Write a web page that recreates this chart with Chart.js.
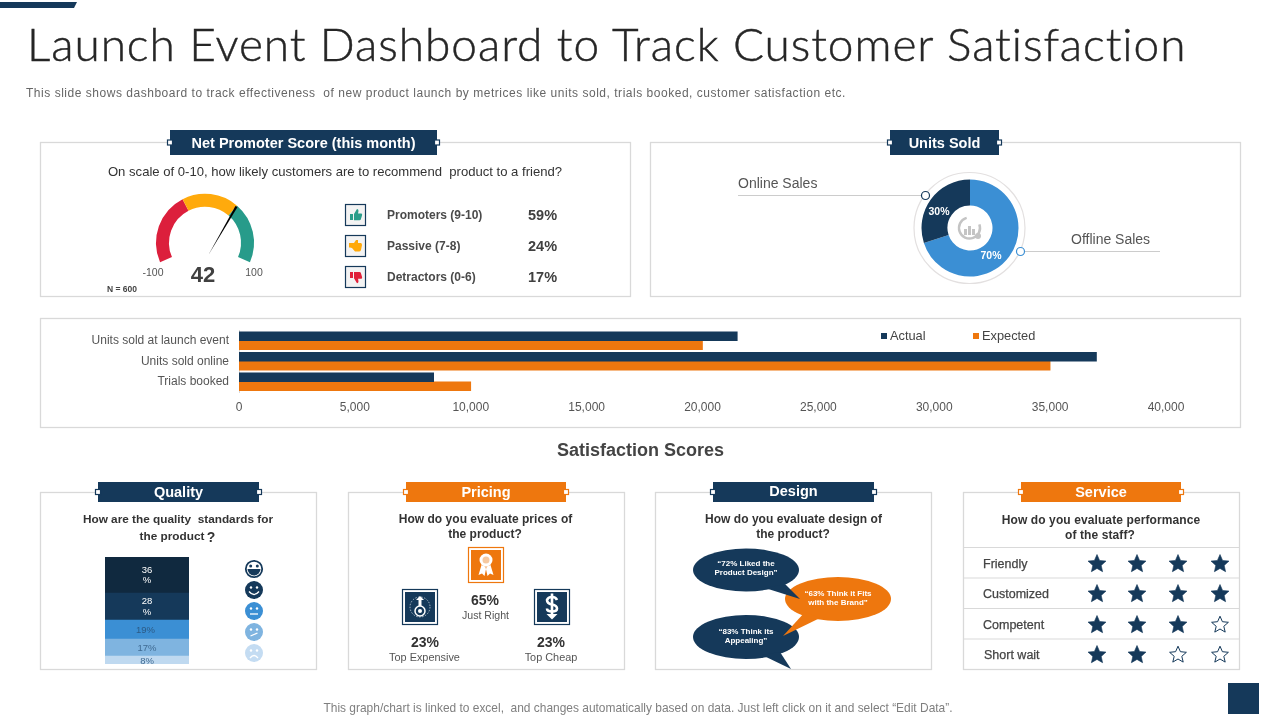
<!DOCTYPE html>
<html><head><meta charset="utf-8">
<script src="https://cdn.jsdelivr.net/npm/chart.js@4"></script>
<style>
html,body{margin:0;padding:0;background:#fff;width:1280px;height:720px;overflow:hidden;font-family:"Liberation Sans",Arial,sans-serif}
#stage{position:relative;width:1280px;height:720px;overflow:hidden}
#deco{position:absolute;left:0;top:0}
canvas{position:absolute}
.t{position:absolute;white-space:nowrap;line-height:1}
</style></head><body><div id="stage"><svg id="deco" width="1280" height="720" viewBox="0 0 1280 720"></svg></div>
<script>
// ---------- data ----------
const barCategories = ['Units sold at launch event','Units sold online','Trials booked'];
const actualValues = [21500,37000,8400];
const expectedValues = [20000,35000,10000];
const barMax = 40000;
const barStep = 5000;
const unitLabels = ['Offline Sales','Online Sales'];
const unitValues = [70,30];
const gaugeSegments = [38,30,32];
const npsScore = 42;
const npsLabels = ['Promoters (9-10)','Passive (7-8)','Detractors (0-6)'];
const npsValues = [59,24,17];
const qualityLevels = ['36%','28%','19%','17%','8%'];
const qualityValues = [8,17,19,27,36];
const pricingValues = [65,23,23];
const pricingLabels = ['Just Right','Top Expensive','Top Cheap'];
const serviceLabels = ['Friendly','Customized','Competent','Short wait'];
const serviceStars = [4,4,3,2];

// ---------- colours ----------
const NAVY='#15395a', ORANGE='#ee770e', BLUE='#3b8fd4', LINE='#d9d9d9';
const stage=document.getElementById('stage'), deco=document.getElementById('deco');
const svg=(s)=>deco.insertAdjacentHTML('beforeend',s);
function t(text,x,y,o={}){
  const e=document.createElement('div');e.className='t';e.textContent=text;
  const a=o.a||'l';const tx=a==='c'?'-50%':a==='r'?'-100%':'0';
  e.style.cssText=`left:${x}px;top:${y}px;transform:translate(${tx},-50%);font-size:${o.s||12}px;font-weight:${o.b?700:400};color:${o.c||'#444'};letter-spacing:${o.ls||0}px;word-spacing:${o.ws||0}px;z-index:5;${o.x||''}`;
  stage.appendChild(e);return e;
}
function canvas(x,y,w,h){const c=document.createElement('canvas');c.style.left=x+'px';c.style.top=y+'px';c.style.width=w+'px';c.style.height=h+'px';c.width=w;c.height=h;const d=document.createElement('div');d.style.cssText=`position:absolute;left:${x}px;top:${y}px;width:${w}px;height:${h}px;z-index:3`;c.style.left='0';c.style.top='0';d.appendChild(c);stage.appendChild(d);return c;}
function panel(x,y,w,h){svg(`<rect x="${x}" y="${y}" width="${w}" height="${h}" fill="#fff" stroke="${LINE}" stroke-width="1.3"/>`);}
function header(x1,x2,y1,y2,col,text,ty,s){
  svg(`<rect x="${x1}" y="${y1}" width="${x2-x1}" height="${y2-y1}" fill="${col}"/>`);
  const my=(y1+y2)/2;
  [x1,x2].forEach(px=>svg(`<rect x="${px-2.5}" y="${my-2.5}" width="5" height="5" fill="#fff" stroke="${col}" stroke-width="1.2"/>`));
  t(text,(x1+x2)/2,ty,{a:'c',b:1,s:s||14.5,c:'#fff'});
}
// top-left strip and bottom-right square
svg(`<polygon points="0,2 77,2 74,8 0,8" fill="${NAVY}"/>`);
svg(`<rect x="1228" y="683" width="31" height="31" fill="${NAVY}"/>`);

// ---------- titles ----------
const titleEl=t('Launch Event Dashboard to Track Customer Satisfaction',27,43.5,{s:46,c:'#262626',x:'font-family:Lato,"Liberation Sans",sans-serif;font-weight:300;-webkit-text-stroke:.45px #262626;'});
titleEl.style.letterSpacing=((1161-titleEl.getBoundingClientRect().width)/titleEl.textContent.length)+'px';
t('This slide shows dashboard to track effectiveness  of new product launch by metrices like units sold, trials booked, customer satisfaction etc.',26,92.5,{s:12,c:'#666',ls:0.525,x:'white-space:pre;'});
t('Satisfaction Scores',640.5,449.5,{a:'c',s:18,b:1,c:'#444'});
t('This graph/chart is linked to excel,  and changes automatically based on data. Just left click on it and select \u201cEdit Data\u201d.',638,708.5,{a:'c',s:11.95,c:'#7f7f7f',x:'white-space:pre;'});

// ---------- panels ----------
panel(40.5,142.5,590,154);panel(650.5,142.5,590,154);panel(40.5,318.5,1200,109);
panel(40.5,492.5,276,177);panel(348.5,492.5,276,177);panel(655.5,492.5,276,177);panel(963.5,492.5,276,177);
header(170,437,130,155,NAVY,'Net Promoter Score (this month)',143);
header(890,999,130,155,NAVY,'Units Sold',143);
header(98,259,482,502,NAVY,'Quality',492);
header(406,566,482,502,ORANGE,'Pricing',492);
header(713,874,482,502,NAVY,'Design',490.5);
header(1021,1181,482,502,ORANGE,'Service',492);

// ---------- NPS panel ----------
t('On scale of 0-10, how likely customers are to recommend  product to a friend?',335,171.5,{a:'c',s:13.1,c:'#333',x:'white-space:pre;'});
const gaugeCx=204.5, gaugeCy=243, needleDeg=41, gaugeRadius=49;
const needlePlugin={id:'needle',afterDatasetsDraw(ch){
  const a=ch.getDatasetMeta(0).data[0], g=ch.ctx, r=a.outerRadius-1, th=needleDeg*Math.PI/180;
  const tx=a.x+r*Math.sin(th), ty=a.y-r*Math.cos(th), bx=a.x+3.5, by=a.y+12;
  const px=Math.cos(Math.atan2(ty-by,tx-bx)+Math.PI/2)*1.2, py=Math.sin(Math.atan2(ty-by,tx-bx)+Math.PI/2)*1.2;
  g.save();g.fillStyle='#000';g.beginPath();g.moveTo(bx,by);g.lineTo(tx+px,ty+py);g.lineTo(tx-px,ty-py);g.closePath();g.fill();g.restore();
}};
// the library centres the arc's bounding box in the canvas, so the canvas sits higher than the arc centre
const gaugeShift=(1-Math.sin(23.5*Math.PI/180))/2*gaugeRadius;
new Chart(canvas(gaugeCx-60,gaugeCy-gaugeShift-60,120,120),{type:'doughnut',plugins:[needlePlugin],
  data:{labels:['Detractors','Passive','Promoters'],datasets:[{data:gaugeSegments,backgroundColor:['#dc1f3c','#ffaa0c','#279b8a'],borderWidth:0}]},
  options:{responsive:false,animation:false,rotation:-113.5,circumference:227,radius:gaugeRadius,cutout:'73.5%',layout:{padding:0},plugins:{legend:{display:false},tooltip:{enabled:false}}}});
t('-100',153,271.5,{a:'c',s:10.5,c:'#555'});
t('100',254,271.5,{a:'c',s:10.5,c:'#555'});
t(String(npsScore),203,275,{a:'c',s:22,b:1,c:'#404040'});
t('N = 600',107,288.5,{s:8.5,b:1,c:'#444'});
const npsRowY=[215,246,277], npsIconCol=['#2a9d8a','#ffa90a','#e0213a'];
npsLabels.forEach((l,i)=>{
  const y=npsRowY[i];
  svg(`<rect x="345.5" y="${y-10.5}" width="20" height="21" fill="#f3f3f3" stroke="${NAVY}" stroke-width="1.2"/>`);
  const c=npsIconCol[i];
  if(i===0) svg(`<path d="M350 ${y-1}h3v6h-3z M354 ${y-1}l3 -5q1.5 0 1.5 2l-.5 2.5h3.5q1 .5 .5 2l-1.2 4q-.3 .8 -1.3 .8h-5.5z" fill="${c}"/>`);
  if(i===1) svg(`<path d="M349 ${y-3}h5l2 -3h2v3h3q1 .5 1 2l-1 5q-.5 1.5 -2 1.5h-4l-3 -3.5l-2 -.5h-1z" fill="${c}"/>`);
  if(i===2) svg(`<path d="M350 ${y-5}h3v6h-3z M354 ${y-5}h5.5q1 0 1.3 .8l1.2 4q.5 1.5 -.5 2h-3.5l.5 2.5q0 2 -1.5 2l-3 -5z" fill="${c}"/>`);
  t(l,387,y,{s:12,b:1,c:'#4a4a4a'});
  t(npsValues[i]+'%',528,y,{s:14.5,b:1,c:'#404040'});
});

// ---------- Units sold donut ----------
const donutCx=969.5, donutCy=228;
svg(`<circle cx="${donutCx}" cy="${donutCy}" r="55.5" fill="#fff" stroke="#e3e0e0" stroke-width="1.2"/>`);
new Chart(canvas(donutCx-52,donutCy-52,104,104),{type:'doughnut',
  data:{labels:unitLabels,datasets:[{data:unitValues,backgroundColor:[BLUE,NAVY],borderWidth:0}]},
  options:{responsive:false,animation:false,radius:48.5,cutout:'46.4%',layout:{padding:0},plugins:{legend:{display:false},tooltip:{enabled:false}}}});
t(unitLabels[1],738,182.5,{s:14,c:'#555'});
t(unitLabels[0],1071,238.5,{s:14,c:'#555'});
svg(`<path d="M738 195.5H921" stroke="#ccc" fill="none"/><path d="M1025 251.5H1160" stroke="#ccc" fill="none"/>`);
const overlay=`<svg width="1280" height="720" style="position:absolute;left:0;top:0;z-index:4" viewBox="0 0 1280 720">
<circle cx="925.5" cy="195.5" r="4" fill="#fff" stroke="${NAVY}" stroke-width="1.2"/>
<circle cx="1020.5" cy="251.5" r="4" fill="#fff" stroke="${BLUE}" stroke-width="1.2"/>
<circle cx="${donutCx}" cy="${donutCy}" r="10.5" fill="none" stroke="#c4c4c4" stroke-width="2.5" stroke-dasharray="50 16" transform="rotate(-20 ${donutCx} ${donutCy})"/>
<path d="M964 235v-6h3v6z M968 235v-9h3v9z M972 235v-6h3v6z" fill="#c4c4c4"/>
<circle cx="978" cy="236" r="3" fill="#c4c4c4"/>
<rect x="881" y="333" width="6" height="6" fill="${NAVY}"/><rect x="973" y="333" width="6" height="6" fill="${ORANGE}"/>
</svg>`;
stage.insertAdjacentHTML('beforeend',overlay);
t(unitValues[1]+'%',939,210.5,{a:'c',s:10.5,b:1,c:'#fff'});
t(unitValues[0]+'%',991,254.5,{a:'c',s:10.5,b:1,c:'#fff'});

// ---------- grouped bars ----------
new Chart(canvas(41,319,1199,108),{type:'bar',
  data:{labels:barCategories,datasets:[
    {label:'Actual',data:actualValues,backgroundColor:NAVY,barThickness:9,categoryPercentage:.9,barPercentage:1},
    {label:'Expected',data:expectedValues,backgroundColor:ORANGE,barThickness:9,categoryPercentage:.9,barPercentage:1}]},
  options:{responsive:false,animation:false,indexAxis:'y',
    layout:{autoPadding:false,padding:{top:11.5,right:74,left:0,bottom:0}},
    scales:{
      x:{min:0,max:barMax,afterFit:s=>{s.height=35},grid:{display:false,drawTicks:false},border:{display:false},
         ticks:{stepSize:barStep,maxRotation:0,autoSkip:false,padding:8,color:'#555',font:{family:'"Liberation Sans"',size:12},callback:v=>v.toLocaleString('en-US')}},
      y:{afterFit:s=>{s.width=198;s.paddingTop=0;s.paddingBottom=0},grid:{display:false,drawTicks:false},border:{display:true,color:'#d9d9d9'},
         ticks:{padding:10,color:'#555',font:{family:'"Liberation Sans"',size:12}}}
    },
    plugins:{legend:{display:false},tooltip:{enabled:false}}}});
t('Actual',890,336,{s:12.8,c:'#444'});
t('Expected',982,336,{s:12.8,c:'#444'});

// ---------- Quality ----------
t('How are the quality  standards for',178,520,{a:'c',s:11.8,b:1,c:'#333',x:'white-space:pre;'});
t('the product',172,537,{a:'c',s:11.8,b:1,c:'#333'});
t('?',211,537,{a:'c',s:14,b:1,c:'#333'});
new Chart(canvas(105,557,84,107),{type:'bar',
  data:{labels:['Quality'],datasets:qualityValues.map((v,i)=>({label:qualityLevels[4-i],data:[v],backgroundColor:['#bfd9f0','#7fb4e0',BLUE,'#15395a','#10293f'][i],categoryPercentage:1,barPercentage:1,borderWidth:0}))},
  options:{responsive:false,animation:false,layout:{padding:0},
    scales:{x:{stacked:true,display:false},y:{stacked:true,display:false,min:0,max:107}},
    plugins:{legend:{display:false},tooltip:{enabled:false}}}});
const qualY=[[569.5,580],[601,611.5],[630],[647.5],[660.5]], qualCol=['#fff','#fff','#2c5a85','#3f6a92','#3f6a92'];
qualityLevels.forEach((l,i)=>{
  if(i<2){t(l.replace('%',''),147,qualY[i][0],{a:'c',s:9.5,c:qualCol[i]});t('%',147,qualY[i][1],{a:'c',s:9.5,c:qualCol[i]});}
  else t(l,i===2?145.5:147,qualY[i][0],{a:'c',s:9.5,c:qualCol[i]});
});
const faceY=[569,590,611,632,653], faceCol=[NAVY,NAVY,BLUE,'#7fb4e0','#c4dcf2'];
faceY.forEach((y,i)=>{
  const c=faceCol[i],x=254;
  if(i===0){
    svg(`<circle cx="${x}" cy="${y}" r="8.2" fill="#fff" stroke="${c}" stroke-width="1.8"/><circle cx="${x-3.3}" cy="${y-3}" r="1.5" fill="${c}"/><circle cx="${x+3.3}" cy="${y-3}" r="1.5" fill="${c}"/><path d="M${x-6.5} ${y}h13a6.5 6.5 0 0 1 -13 0z" fill="${c}"/>`);
  } else {
    const mouth=[ '',`M${x-5} ${y+1.5}q5 6 10 0`,`M${x-4} ${y+3}h8`,`M${x-3.5} ${y+4}l7 -3`,`M${x-4} ${y+5}q4 -5 8 0`][i];
    svg(`<circle cx="${x}" cy="${y}" r="9" fill="${c}"/><circle cx="${x-3}" cy="${y-2.5}" r="1.2" fill="#fff"/><circle cx="${x+3}" cy="${y-2.5}" r="1.2" fill="#fff"/><path d="${mouth}" stroke="#fff" stroke-width="1.3" fill="none"/>`);
  }
});

// ---------- Pricing ----------
t('How do you evaluate prices of',485.5,519,{a:'c',s:12,b:1,c:'#333',ls:0.03});
t('the product?',485,534,{a:'c',s:12,b:1,c:'#333',ls:0.03});
svg(`<rect x="468.5" y="547.5" width="35" height="35" fill="#fff" stroke="${ORANGE}" stroke-width="1.2"/><rect x="471" y="550" width="30" height="30" fill="${ORANGE}"/>
<path d="M481.5 565l-3 10 3.5 -1.5 2.5 2.5 2 -9z M490.5 565l3 10 -3.5 -1.5 -2.5 2.5 -2 -9z" fill="#fff"/><circle cx="486" cy="560" r="6.5" fill="#fff"/><circle cx="486" cy="560" r="3.5" fill="#f6c9a0"/>`);
[402,534].forEach(x=>svg(`<rect x="${x+.5}" y="589.5" width="35" height="35" fill="#fff" stroke="${NAVY}" stroke-width="1.2"/><rect x="${x+3}" y="592" width="30" height="30" fill="${NAVY}"/>`));
svg(`<circle cx="420" cy="607" r="10" fill="none" stroke="#cfd8e0" stroke-width=".8" stroke-dasharray="1.5 1.5"/><circle cx="420" cy="611" r="5" fill="none" stroke="#fff" stroke-width="1.5"/><circle cx="420" cy="611" r="2" fill="#fff"/><path d="M420 596l4 4h-2.5v6h-3v-6h-2.5z" fill="#fff"/>`);
svg(`<path d="M557 600q-1 -3 -5 -3t-5 3q0 3.500 5 4.500t5 4q0 3 -5 3t-5 -3" fill="none" stroke="#fff" stroke-width="2.6"/><rect x="550.700" y="593.500" width="2.600" height="22" fill="#fff"/><path d="M546.500 614h11l-5.500 5.500z" fill="#fff"/>`);
t(pricingValues[0]+'%',485,599.5,{a:'c',s:14,b:1,c:'#333'});
t(pricingLabels[0],485.5,614.5,{a:'c',s:10.6,c:'#555'});
t(pricingValues[1]+'%',425,641.5,{a:'c',s:14,b:1,c:'#333'});
t(pricingLabels[1],424.5,656.5,{a:'c',s:10.9,c:'#555'});
t(pricingValues[2]+'%',551,641.5,{a:'c',s:14,b:1,c:'#333'});
t(pricingLabels[2],551,656.5,{a:'c',s:10.9,c:'#555'});

// ---------- Design ----------
t('How do you evaluate design of',793.5,519,{a:'c',s:12,b:1,c:'#333',ls:0.03});
t('the product?',793,534,{a:'c',s:12,b:1,c:'#333',ls:0.03});
svg(`<ellipse cx="746" cy="637" rx="53" ry="22" fill="${NAVY}"/><polygon points="762,655 780,652 791,669" fill="${NAVY}"/>
<ellipse cx="838" cy="599" rx="53" ry="22" fill="${ORANGE}"/><polygon points="805,612 820,618 783,636" fill="${ORANGE}"/>
<ellipse cx="746" cy="570" rx="53" ry="21.500" fill="${NAVY}"/><polygon points="765,588 785,584 800,599" fill="${NAVY}"/>`);
const bub=(a,b,x,y)=>{t(a,x,y,{a:'c',s:8,b:1,c:'#fff'});t(b,x,y+9,{a:'c',s:8,b:1,c:'#fff'});};
bub('\u201c72% Liked the','Product Design\u201d',746,564);
bub('\u201c63% Think it Fits','with the Brand\u201d',838,594);
bub('\u201c83% Think its','Appealing\u201d',746,632);

// ---------- Service ----------
t('How do you evaluate performance',1101,520,{a:'c',s:12,b:1,c:'#333',ls:0.1});
t('of the staff?',1100,535,{a:'c',s:12,b:1,c:'#333',ls:0.1});
const starX=[1097,1137,1178,1220], starY=[564,594,625,655], lineY=[547.5,578,608.5,639];
lineY.forEach(y=>svg(`<path d="M964 ${y}H1240" stroke="${LINE}" stroke-width="1.1"/>`));
function starPts(cx,cy,R){let p=[];for(let k=0;k<10;k++){const r=k%2?R*.46:R,a=-Math.PI/2+k*Math.PI/5;p.push((cx+r*Math.cos(a)).toFixed(1)+','+(cy+r*Math.sin(a)).toFixed(1));}return p.join(' ');}
serviceLabels.forEach((l,i)=>{
  t(l,i===3?984:983,starY[i]-.5,{s:12.5,c:'#444',x:'-webkit-text-stroke:.25px #444;'});
  starX.forEach((x,j)=>{
    const on=j<serviceStars[i];
    svg(`<polygon points="${starPts(x,starY[i],on?9.5:8.8)}" fill="${on?NAVY:'#fff'}" stroke="${NAVY}" stroke-width="${on?.6:1}" stroke-linejoin="round"/>`);
  });
});
</script></body></html>
